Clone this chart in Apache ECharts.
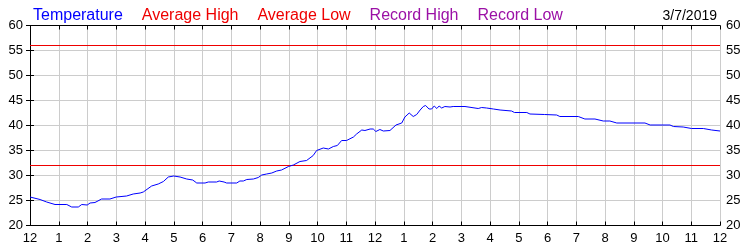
<!DOCTYPE html>
<html>
<head>
<meta charset="utf-8">
<script src="https://cdn.jsdelivr.net/npm/echarts@6/dist/echarts.min.js"></script>
<style>html,body{margin:0;padding:0;background:#fff}#c{width:750px;height:250px}</style>
</head>
<body>
<div id="c"></div>
<script>
const hourLabels = ['12','1','2','3','4','5','6','7','8','9','10','11','12','1','2','3','4','5','6','7','8','9','10','11','12'];
const yTicks = [20,25,30,35,40,45,50,55,60];
const hours = [0.00,0.35,0.58,0.87,1.28,1.45,1.68,1.80,1.99,2.09,2.26,2.49,2.78,3.00,3.36,3.59,3.83,3.94,4.23,4.46,4.64,4.81,5.00,5.22,5.45,5.66,5.80,6.09,6.20,6.49,6.58,6.75,6.84,7.19,7.30,7.42,7.54,7.77,7.94,8.06,8.23,8.41,8.58,8.75,8.99,9.16,9.39,9.62,9.85,9.97,10.20,10.38,10.55,10.69,10.84,11.01,11.25,11.36,11.54,11.65,11.83,11.94,12.03,12.17,12.29,12.52,12.73,12.93,13.04,13.19,13.33,13.45,13.57,13.68,13.76,13.88,13.97,14.06,14.15,14.23,14.32,14.43,14.61,14.72,15.13,15.19,15.59,15.71,15.88,16.12,16.35,16.75,16.85,17.28,17.39,17.90,18.32,18.43,19.07,19.30,19.65,19.94,20.17,20.41,21.39,21.57,22.26,22.38,22.72,23.01,23.42,23.71,24.00];
const temps = [25.7,25.2,24.7,24.2,24.2,23.7,23.7,24.2,24.1,24.5,24.6,25.3,25.3,25.7,25.9,26.3,26.5,26.7,27.9,28.3,28.8,29.7,29.9,29.7,29.3,29.1,28.5,28.5,28.7,28.7,28.9,28.7,28.5,28.5,28.9,28.9,29.2,29.3,29.6,30.1,30.3,30.5,30.9,31.1,31.8,32.1,32.8,33.0,34.0,35.0,35.5,35.3,35.8,36.0,37.0,37.0,37.7,38.3,39.1,39.0,39.3,39.3,38.8,39.2,38.9,39.0,40.1,40.5,41.7,42.5,41.8,42.2,43.1,43.8,44.0,43.3,43.3,43.9,43.4,43.9,43.5,43.8,43.7,43.8,43.8,43.4,43.4,43.6,43.5,43.3,43.1,42.9,42.6,42.6,42.3,42.2,42.1,41.8,41.8,41.3,41.3,40.9,40.9,40.5,40.5,40.1,40.1,39.8,39.7,39.4,39.4,39.1,38.9];
const averageHigh = 56;
const averageLow = 32;
const dateText = '3/7/2019';
const seriesNames = ['Temperature','Average High','Average Low','Record High','Record Low'];
const seriesColors = ['#0000ff','#ee0000','#ee0000','#9b10a6','#9b10a6'];

const xMin = 0, xMax = hourLabels.length - 1;
const tempData = hours.map((h, i) => [h, temps[i]]);
const font = 'Arial, "Liberation Sans", sans-serif';

const chart = echarts.init(document.getElementById('c'), null, {renderer: 'canvas'});
const axisCommon = {
  axisLine: {show: true, lineStyle: {color: '#000', width: 1}},
  axisTick: {show: true, inside: true, length: 4, lineStyle: {color: '#000'}},
};
chart.setOption({
  animation: false,
  backgroundColor: '#fff',
  title: {
    text: dateText, right: 28, top: 4,
    textStyle: {fontSize: 14, fontWeight: 'normal', color: '#000', fontFamily: font}
  },
  legend: {
    left: 23, top: 3, icon: 'none', itemWidth: 0, itemGap: 14,
    selectedMode: false,
    textStyle: {fontSize: 16, fontFamily: font},
    data: seriesNames.map((n, i) => ({name: n, textStyle: {color: seriesColors[i]}}))
  },
  grid: {left: 30, right: 30, top: 25.5, bottom: 24.5, containLabel: false},
  xAxis: [
    Object.assign({
      type: 'value', min: xMin, max: xMax, interval: 1, position: 'bottom',
      axisLabel: {show: true, margin: 6, fontSize: 13, color: '#000', fontFamily: font,
        showMinLabel: true, showMaxLabel: true,
        formatter: v => hourLabels[Math.round(v)]},
      splitLine: {show: true, lineStyle: {color: '#cccccc', width: 1}}
    }, axisCommon),
    Object.assign({
      type: 'value', min: xMin, max: xMax, interval: 1, position: 'top',
      axisLabel: {show: false}, splitLine: {show: false}
    }, axisCommon)
  ],
  yAxis: [
    Object.assign({
      type: 'value', min: yTicks[0], max: yTicks[yTicks.length-1], interval: 5, position: 'left',
      axisLabel: {show: true, margin: 7, fontSize: 13, color: '#000', fontFamily: font},
      splitLine: {show: true, lineStyle: {color: '#cccccc', width: 1}}
    }, axisCommon),
    Object.assign({
      type: 'value', min: yTicks[0], max: yTicks[yTicks.length-1], interval: 5, position: 'right',
      axisLabel: {show: true, margin: 6, fontSize: 13, color: '#000', fontFamily: font},
      splitLine: {show: false}
    }, axisCommon)
  ],
  series: [
    {name: seriesNames[0], type: 'line', data: tempData, showSymbol: false, symbol: 'none',
      lineStyle: {color: seriesColors[0], width: 1}, itemStyle: {color: seriesColors[0]}, z: 5},
    {name: seriesNames[1], type: 'line', data: [[xMin, averageHigh], [xMax, averageHigh]], symbol: 'none',
      lineStyle: {color: seriesColors[1], width: 1}, itemStyle: {color: seriesColors[1]}},
    {name: seriesNames[2], type: 'line', data: [[xMin, averageLow], [xMax, averageLow]], symbol: 'none',
      lineStyle: {color: seriesColors[2], width: 1}, itemStyle: {color: seriesColors[2]}},
    {name: seriesNames[3], type: 'line', data: [], symbol: 'none',
      lineStyle: {color: seriesColors[3], width: 1}, itemStyle: {color: seriesColors[3]}},
    {name: seriesNames[4], type: 'line', data: [], symbol: 'none',
      lineStyle: {color: seriesColors[4], width: 1}, itemStyle: {color: seriesColors[4]}}
  ]
});
</script>
</body>
</html>
